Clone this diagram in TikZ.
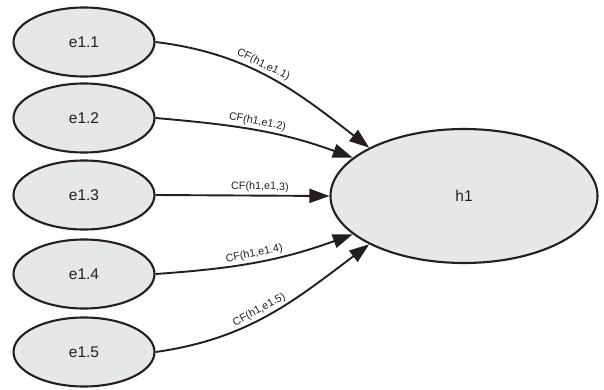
\documentclass[tikz,border=0pt]{standalone}
\usepackage{fontspec}
\setmainfont{Liberation Sans}
\usetikzlibrary{shapes.geometric,arrows.meta}
\definecolor{ink}{HTML}{231F20}
\definecolor{shade}{HTML}{E6E7E8}
\begin{document}
\begin{tikzpicture}[x=1pt,y=1pt,
  evid/.style={ellipse,draw=ink,fill=shade,line width=2.1pt,minimum width=141pt,minimum height=69pt,inner sep=0pt,font=\fontsize{15.5}{18}\selectfont,text=ink},
  hyp/.style={ellipse,draw=ink,fill=shade,line width=2.1pt,minimum width=267pt,minimum height=134pt,inner sep=0pt,font=\fontsize{15.5}{18}\selectfont,text=ink},
  link/.style={draw=ink,line width=1.9pt,-{Triangle[length=20pt,width=14pt]}},
  cf/.style={sloped,above,inner sep=2.5pt,font=\fontsize{10.8}{12}\selectfont,text=ink}]
\useasboundingbox (0,0) rectangle (604,389);
\node[evid] (e1) at (84,347) {e1.1};
\node[evid] (e2) at (84,271) {e1.2};
\node[evid] (e3) at (84,194) {e1.3};
\node[evid] (e4) at (84,115) {e1.4};
\node[evid] (e5) at (84,37) {e1.5};
\node[hyp] (h) at (464,193) {h1};
\draw[link] (e1.east) to[out=-7,in=142] node[cf,pos=0.45] {CF(h1,e1.1)} (h.153);
\draw[link] (e2.east) to[out=-5,in=160] node[cf,pos=0.5] {CF(h1,e1.2)} (h.161);
\draw[link] (e3.east) -- node[cf,pos=0.6] {CF(h1,e1.3)} (h.west);
\draw[link] (e4.east) to[out=4,in=200] node[cf,pos=0.5] {CF(h1,e1.4)} (h.199);
\draw[link] (e5.east) to[out=8,in=217] node[cf,pos=0.47] {CF(h1,e1.5)} (h.207);
\end{tikzpicture}
\end{document}
